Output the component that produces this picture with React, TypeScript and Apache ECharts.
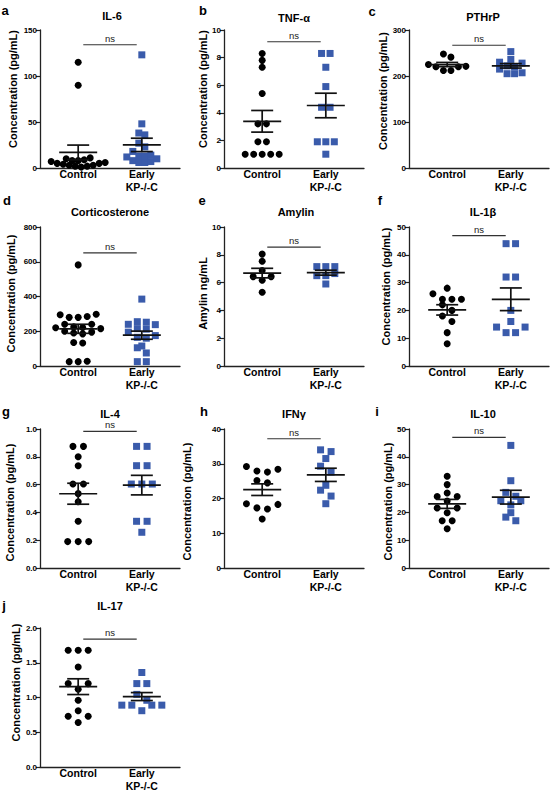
import React, { useEffect, useRef } from "react";
import * as echarts from "echarts";

// ---------------- data ----------------
const groupLabels = ["Control", "Early\nKP-/-C"];
const panelLetters = ["a", "b", "c", "d", "e", "f", "g", "h", "i", "j"];
const panelTitles = ["IL-6", "TNF-α", "PTHrP", "Corticosterone", "Amylin", "IL-1β", "IL-4", "IFNγ", "IL-10", "IL-17"];
const yAxisNames = [
  "Concentration (pg/mL)", "Concentration (pg/mL)", "Concentration (pg/mL)",
  "Concentration (pg/mL)", "Amylin ng/mL", "Concentration (pg/mL)",
  "Concentration (pg/mL)", "Concentration (pg/mL)", "Concentration (pg/mL)",
  "Concentration (pg/mL)",
];
const yMax = [150, 10, 300, 800, 10, 50, 1.0, 40, 50, 2.0];
const yInterval = [50, 2, 100, 200, 2, 10, 0.2, 10, 10, 0.5];
const yDecimals = [0, 0, 0, 0, 0, 0, 1, 0, 0, 1];
const nsLabel = "ns";
const nsLevels = [134, 9.15, 267, 651, 8.55, 46.9, 0.983, 37.2, 47, 1.84];

const il6Control = [115, 90, 11, 10, 9, 8, 8, 7, 6, 5, 5, 4, 3, 3, 2, 2, 1];
const il6Early = [123, 48, 38, 36, 27, 23, 18, 14, 13, 13, 12, 10, 8, 7, 6, 6];
const tnfControl = [8.3, 7.8, 7.3, 5.4, 3.2, 3.2, 1.9, 1.9, 1.0, 1.0, 1.0, 1.0, 1.0];
const tnfEarly = [8.3, 8.3, 7.3, 5.9, 4.4, 4.4, 1.9, 1.9, 1.9, 1.0];
const pthrpControl = [248, 241, 225, 221, 220, 220, 212, 212];
const pthrpEarly = [253, 236, 230, 228, 222, 220, 215, 207, 205, 205];
const cortControl = [582, 298, 295, 285, 280, 280, 240, 240, 225, 222, 220, 215, 200, 195, 190, 185, 135, 132, 27, 25, 25];
const cortEarly = [385, 255, 252, 240, 238, 215, 212, 195, 175, 165, 160, 115, 105, 75, 25, 25];
const amylinControl = [8.05, 7.54, 6.87, 6.43, 6.43, 6.17, 5.3];
const amylinEarly = [7.15, 7.15, 7.15, 6.65, 6.5, 6.5, 5.9];
const il1bControl = [28, 26, 24, 24, 24, 22, 20, 18, 16, 12, 8];
const il1bEarly = [44, 44, 32, 32, 20, 16, 14, 14, 12, 12];
const il4Control = [0.875, 0.875, 0.8, 0.736, 0.604, 0.604, 0.535, 0.477, 0.336, 0.19, 0.19, 0.19];
const il4Early = [0.875, 0.875, 0.736, 0.736, 0.604, 0.604, 0.604, 0.336, 0.336, 0.257];
const ifngControl = [29.2, 28.4, 27.9, 27.6, 25.2, 24.5, 18.5, 18.3, 17.3, 17.0, 14.1];
const ifngEarly = [34.0, 33.5, 31.5, 29.3, 27.6, 23.8, 22.4, 20.7, 18.5];
const il10Control = [33, 30, 27, 25.7, 25.7, 24.1, 21.6, 21.6, 19.9, 17, 17, 14.1];
const il10Early = [44.1, 31.4, 27.2, 25.8, 24.2, 24.2, 22.7, 19.9, 18.3, 17];
const il17Control = [1.68, 1.68, 1.68, 1.44, 1.2, 1.2, 1.12, 0.96, 0.81, 0.73, 0.73, 0.64];
const il17Early = [1.36, 1.2, 1.2, 1.045, 0.96, 0.89, 0.89, 0.89, 0.89, 0.81];

const controlValues = [il6Control, tnfControl, pthrpControl, cortControl, amylinControl, il1bControl, il4Control, ifngControl, il10Control, il17Control];
const earlyValues = [il6Early, tnfEarly, pthrpEarly, cortEarly, amylinEarly, il1bEarly, il4Early, ifngEarly, il10Early, il17Early];

// ---------------- layout / style ----------------
const FONT = "'Liberation Sans', Arial, Helvetica, sans-serif";
const W = 552;
const H = 793;
const colLeft = [40, 224, 409];
const rowTop = [30, 227, 429, 628];
const rowHeight = [138, 139, 139, 139];
const gridWidth = 140;
const X_MIN = 0.4;
const X_MAX = 2.6;
const X_INTERVAL = 0.2;
const nameGaps = [22, 16, 19, 24, 16, 18, 25, 32, 15, 18];
const nameShifts = [10, 10, 8, 3, 3, 10, -4, -3, -3, 15];
const swarmSpacing = [6, 8.5, 7.5, 9, 9, 9.5, 10.5, 10.5, 10, 10];
const letterPos = [[5, 10], [203, 10], [372, 11], [7, 200], [202, 200], [380, 200], [6, 411], [204, 411], [377, 411], [4, 605]];
const titlePos = [[112, 16], [294, 18], [483, 17], [110, 212], [296, 212], [483, 212], [110, 414], [294, 414], [483, 414], [110, 606]];
const DOT = 7;
const SQUARE = 7;
const BLUE = "#3a5bab";
const AXIS = "#222";

function meanSem(vals: number[]) {
  const n = vals.length;
  const m = vals.reduce((a, b) => a + b, 0) / n;
  const sd = Math.sqrt(vals.reduce((a, b) => a + (b - m) * (b - m), 0) / (n - 1));
  return [m, sd / Math.sqrt(n)];
}

function swarm(values: number[], center: number, pxPerY: number, pxPerX: number, spacing: number): number[][] {
  const sorted = [...values].sort((a, b) => a - b);
  const rows: number[][] = [];
  let cur: number[] = [];
  for (const v of sorted) {
    if (cur.length && (v - cur[0]) * pxPerY > DOT * 0.9) {
      rows.push(cur);
      cur = [];
    }
    cur.push(v);
  }
  if (cur.length) rows.push(cur);
  const out: number[][] = [];
  rows.forEach((row) => {
    const n = row.length;
    const ordered: number[] = [];
    row.forEach((v, k) => (k % 2 === 0 ? ordered.push(v) : ordered.unshift(v)));
    ordered.forEach((v, k) => {
      const off = (k - (n - 1) / 2) * spacing;
      out.push([center + off / pxPerX, v]);
    });
  });
  return out;
}

function buildOption() {
  const grids: any[] = [];
  const xAxes: any[] = [];
  const yAxes: any[] = [];
  const series: any[] = [];
  const graphics: any[] = [];

  panelTitles.forEach((title, i) => {
    const col = i % 3;
    const row = Math.floor(i / 3);
    const h = rowHeight[row];
    grids.push({ left: colLeft[col], top: rowTop[row], width: gridWidth, height: h, containLabel: false });
    const pxPerX = gridWidth / (X_MAX - X_MIN);
    const pxPerY = h / yMax[i];
    const dec = yDecimals[i];
    const shift = nameShifts[i];
    const pad = shift >= 0 ? [0, 0, 0, 2 * shift] : [0, -2 * shift, 0, 0];

    xAxes.push({
      gridIndex: i,
      type: "value",
      min: X_MIN,
      max: X_MAX,
      interval: X_INTERVAL,
      axisLine: { show: true, onZero: false, lineStyle: { color: AXIS, width: 1.3 } },
      axisTick: { show: false },
      splitLine: { show: false },
      axisLabel: {
        show: true,
        showMinLabel: true,
        showMaxLabel: true,
        margin: 0,
        fontSize: 10.5,
        fontWeight: "bold",
        fontFamily: FONT,
        color: "#000",
        lineHeight: 12.5,
        formatter: (v: number) =>
          Math.abs(v - 1) < 1e-6 ? groupLabels[0] : Math.abs(v - 2) < 1e-6 ? groupLabels[1] : "",
      },
    });
    yAxes.push({
      gridIndex: i,
      type: "value",
      min: 0,
      max: yMax[i],
      interval: yInterval[i],
      name: yAxisNames[i],
      nameLocation: "middle",
      nameGap: nameGaps[i],
      nameTextStyle: { fontSize: 11, fontWeight: "bold", fontFamily: FONT, color: "#000", padding: pad },
      axisLine: { show: true, lineStyle: { color: AXIS, width: 1.3 } },
      axisTick: { show: true, length: 4, lineStyle: { color: AXIS, width: 1.2 } },
      splitLine: { show: false },
      axisLabel: {
        margin: 3,
        fontSize: 8,
        fontWeight: "bold",
        fontFamily: FONT,
        color: "#000",
        formatter: (v: number) => v.toFixed(dec),
      },
    });

    series.push({
      type: "scatter",
      xAxisIndex: i,
      yAxisIndex: i,
      symbol: "circle",
      symbolSize: DOT,
      itemStyle: { color: "#000", opacity: 1 },
      data: swarm(controlValues[i], 1, pxPerY, pxPerX, swarmSpacing[i]),
      z: 2,
    });
    series.push({
      type: "scatter",
      xAxisIndex: i,
      yAxisIndex: i,
      symbol: "rect",
      symbolSize: SQUARE,
      itemStyle: { color: BLUE, opacity: 1 },
      data: swarm(earlyValues[i], 2, pxPerY, pxPerX, swarmSpacing[i]),
      z: 2,
    });

    const stats = [
      [1, ...meanSem(controlValues[i])],
      [2, ...meanSem(earlyValues[i])],
    ];
    series.push({
      type: "custom",
      xAxisIndex: i,
      yAxisIndex: i,
      z: 5,
      data: stats,
      renderItem: (params: any, api: any) => {
        const x = api.value(0);
        const m = api.value(1);
        const s = api.value(2);
        const c = api.coord([x, m]);
        const hi = api.coord([x, m + s]);
        const lo = api.coord([x, m - s]);
        const st = { stroke: "#111", lineWidth: 1.7 };
        return {
          type: "group",
          children: [
            { type: "line", shape: { x1: c[0] - 19, y1: c[1], x2: c[0] + 19, y2: c[1] }, style: st },
            { type: "line", shape: { x1: hi[0], y1: hi[1], x2: lo[0], y2: lo[1] }, style: st },
            { type: "line", shape: { x1: hi[0] - 11, y1: hi[1], x2: hi[0] + 11, y2: hi[1] }, style: st },
            { type: "line", shape: { x1: lo[0] - 11, y1: lo[1], x2: lo[0] + 11, y2: lo[1] }, style: st },
          ],
        };
      },
    });

    series.push({
      type: "custom",
      xAxisIndex: i,
      yAxisIndex: i,
      z: 4,
      data: [[1.08, 1.92, nsLevels[i]]],
      renderItem: (params: any, api: any) => {
        const a = api.coord([api.value(0), api.value(2)]);
        const b = api.coord([api.value(1), api.value(2)]);
        return {
          type: "group",
          children: [
            { type: "line", shape: { x1: a[0], y1: a[1], x2: b[0], y2: b[1] }, style: { stroke: "#333", lineWidth: 1.1 } },
            {
              type: "text",
              x: (a[0] + b[0]) / 2,
              y: a[1] - 1.5,
              style: { text: nsLabel, fill: "#222", fontSize: 9.5, fontFamily: FONT, align: "center", verticalAlign: "bottom" },
            },
          ],
        };
      },
    });

    graphics.push({
      type: "text",
      x: titlePos[i][0],
      y: titlePos[i][1],
      style: { text: title, fill: "#000", fontSize: 11, fontWeight: "bold", fontFamily: FONT, align: "center", verticalAlign: "middle" },
    });
    graphics.push({
      type: "text",
      x: letterPos[i][0],
      y: letterPos[i][1],
      style: { text: panelLetters[i], fill: "#000", fontSize: 13, fontWeight: "bold", fontFamily: FONT, align: "center", verticalAlign: "middle" },
    });
  });

  return {
    animation: false,
    backgroundColor: "#fff",
    textStyle: { fontFamily: FONT },
    grid: grids,
    xAxis: xAxes,
    yAxis: yAxes,
    series,
    graphic: graphics,
  };
}

export default function App() {
  const ref = useRef<HTMLDivElement>(null);
  useEffect(() => {
    if (!ref.current) return;
    const chart = echarts.init(ref.current, null, { renderer: "svg" });
    chart.setOption(buildOption() as any);
    return () => chart.dispose();
  }, []);
  return <div ref={ref} style={{ position: "absolute", left: 0, top: 0, width: W, height: H }} />;
}
